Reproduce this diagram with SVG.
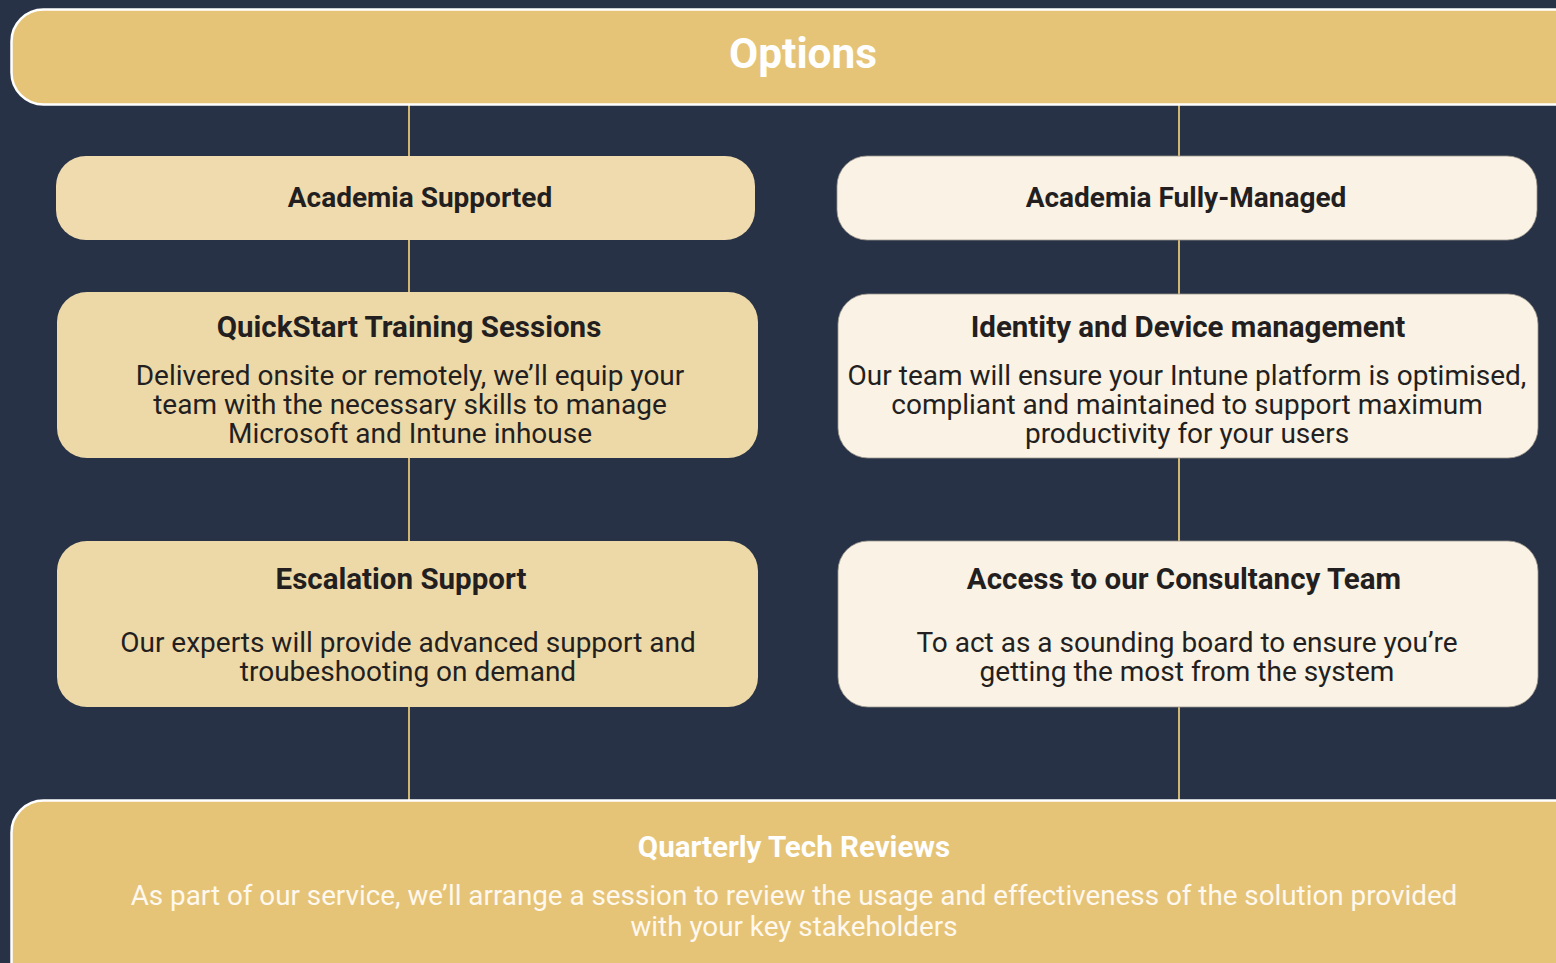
<svg xmlns="http://www.w3.org/2000/svg" width="1556" height="963" viewBox="0 0 1556 963">
<style>
.h{font-family:Roboto,"Liberation Sans",sans-serif;font-weight:700;font-size:29.5px;fill:#231F20;text-anchor:middle}
.ht{font-family:Roboto,"Liberation Sans",sans-serif;font-weight:700;font-size:28px;fill:#231F20;text-anchor:middle}
.b{font-family:Roboto,"Liberation Sans",sans-serif;font-weight:400;font-size:28px;fill:#231F20;text-anchor:middle}
.hw{font-family:Roboto,"Liberation Sans",sans-serif;font-weight:700;fill:#FFFFFF;text-anchor:middle}
.bw{font-family:Roboto,"Liberation Sans",sans-serif;font-weight:400;font-size:27.8px;fill:#FFF8EE;text-anchor:middle}
.bar{fill:#E5C478;stroke:#FFFFFF;stroke-width:2.5}
.l1{fill:#F0DBAE}
.l2{fill:#EDD9A8}
.r{fill:#FAF2E4;stroke:#9A958C;stroke-width:0.8}
.c{stroke:#E5C478;stroke-width:1.8;fill:none}
</style>
<rect width="1556" height="963" fill="#273247"/>
<g id="connectors">
<line class="c" x1="409" y1="104" x2="409" y2="801"/>
<line class="c" x1="1179" y1="104" x2="1179" y2="801"/>
</g>
<g id="options">
<rect class="bar" x="11.5" y="9.5" width="1580" height="95" rx="32"/>
<text class="hw" x="803" y="68" font-size="42.3">Options</text>
</g>
<g id="academia-supported">
<rect class="l1" x="56" y="156" width="699" height="84" rx="30"/>
<text class="ht" x="420" y="207">Academia Supported</text>
</g>
<g id="academia-fully-managed">
<rect class="r" x="837" y="156" width="700" height="84" rx="30"/>
<text class="ht" x="1186" y="207">Academia Fully-Managed</text>
</g>
<g id="quickstart">
<rect class="l2" x="57" y="292" width="701" height="166" rx="30"/>
<text class="h" x="409" y="337">QuickStart Training Sessions</text>
<text class="b" x="410" y="385">Delivered onsite or remotely, we’ll equip your</text>
<text class="b" x="410" y="414">team with the necessary skills to manage</text>
<text class="b" x="410" y="443">Microsoft and Intune inhouse</text>
</g>
<g id="identity">
<rect class="r" x="838" y="294" width="700" height="164" rx="30"/>
<text class="h" x="1188" y="337">Identity and Device management</text>
<text class="b" x="1187" y="385">Our team will ensure your Intune platform is optimised,</text>
<text class="b" x="1187" y="414">compliant and maintained to support maximum</text>
<text class="b" x="1187" y="443">productivity for your users</text>
</g>
<g id="escalation">
<rect class="l2" x="57" y="541" width="701" height="166" rx="30"/>
<text class="h" x="401" y="589">Escalation Support</text>
<text class="b" x="408" y="652">Our experts will provide advanced support and</text>
<text class="b" x="408" y="681">troubeshooting on demand</text>
</g>
<g id="consultancy">
<rect class="r" x="838" y="541" width="700" height="166" rx="30"/>
<text class="h" x="1184" y="589">Access to our Consultancy Team</text>
<text class="b" x="1187" y="652">To act as a sounding board to ensure you’re</text>
<text class="b" x="1187" y="681">getting the most from the system</text>
</g>
<g id="quarterly">
<rect class="bar" x="11.5" y="800.5" width="1580" height="200" rx="32"/>
<text class="hw" x="794" y="857" font-size="29.5">Quarterly Tech Reviews</text>
<text class="bw" x="794" y="905">As part of our service, we’ll arrange a session to review the usage and effectiveness of the solution provided</text>
<text class="bw" x="794" y="936">with your key stakeholders</text>
</g>
</svg>
